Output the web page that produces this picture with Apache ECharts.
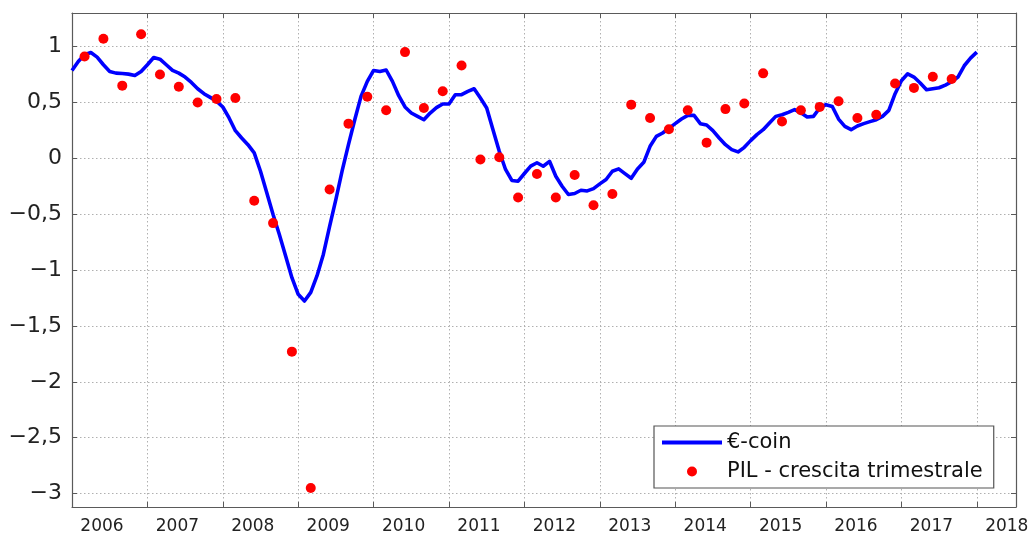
<!DOCTYPE html>
<html>
<head>
<meta charset="utf-8">
<script src="https://cdn.jsdelivr.net/npm/echarts@6/dist/echarts.min.js"></script>
<style>
  html, body { margin: 0; padding: 0; background: #fff; }
  #chart { width: 1033px; height: 535px; }
</style>
</head>
<body>
<div id="chart"></div>
<script>
// €-coin, monthly values from Jan 2006 to Jan 2018
var ecoinStart = 2006;
var ecoin = [
  0.786, 0.866, 0.926, 0.946, 0.905, 0.837, 0.777, 0.762, 0.759, 0.753, 0.741, 0.777,
  0.837, 0.902, 0.887, 0.837, 0.786, 0.762, 0.727, 0.679, 0.622, 0.578, 0.545, 0.512,
  0.459, 0.361, 0.247, 0.182, 0.122, 0.048, -0.116, -0.309, -0.503, -0.682, -0.875, -1.068,
  -1.217, -1.277, -1.2, -1.05, -0.86, -0.61, -0.368, -0.11, 0.122, 0.345, 0.554, 0.688,
  0.786, 0.777, 0.79, 0.688, 0.56, 0.459, 0.405, 0.375, 0.345, 0.405, 0.453, 0.486,
  0.486, 0.569, 0.569, 0.598, 0.622, 0.539, 0.45, 0.256, 0.063, -0.1, -0.198, -0.205,
  -0.136, -0.07, -0.04, -0.071, -0.027, -0.161, -0.25, -0.324, -0.315, -0.286, -0.292, -0.271,
  -0.229, -0.19, -0.116, -0.095, -0.137, -0.179, -0.095, -0.036, 0.107, 0.196, 0.226, 0.268,
  0.31, 0.351, 0.384, 0.384, 0.31, 0.298, 0.247, 0.182, 0.122, 0.078, 0.057, 0.098,
  0.158, 0.212, 0.256, 0.316, 0.375, 0.39, 0.411, 0.435, 0.408, 0.37, 0.375, 0.45,
  0.48, 0.464, 0.351, 0.286, 0.256, 0.289, 0.31, 0.328, 0.345, 0.375, 0.429, 0.578,
  0.694, 0.756, 0.727, 0.673, 0.613, 0.622, 0.631, 0.655, 0.685, 0.727, 0.828, 0.896,
  0.95
];

// PIL - crescita trimestrale, quarterly from 2006 Q1 to 2017 Q3
var pilStart = 2006;
var pil = [
  0.91, 1.07, 0.65, 1.11,
  0.75, 0.64, 0.50, 0.53,
  0.54, -0.38, -0.58, -1.73,
  -2.95, -0.28, 0.31, 0.55,
  0.43, 0.95, 0.45, 0.60,
  0.83, -0.01, 0.01, -0.35,
  -0.14, -0.35, -0.15, -0.42,
  -0.32, 0.48, 0.36, 0.26,
  0.43, 0.14, 0.44, 0.49,
  0.76, 0.33, 0.43, 0.46,
  0.51, 0.36, 0.39, 0.67,
  0.63, 0.73, 0.71
];

var seriesNames = ['€-coin', 'PIL - crescita trimestrale'];

var ecoinData = ecoin.map(function (v, i) { return [ecoinStart + i / 12, v]; });
var pilData = pil.map(function (v, i) { return [pilStart + i / 4 + 1 / 6, v]; });

var myChart = echarts.init(document.getElementById('chart'));

var axisColor = '#5a5a5a';
var gridStyle = { color: '#b0b0b0', width: 1, type: [1.5, 2.5] };

function yLabel(v) {
  if (Math.abs(v * 2 - Math.round(v * 2)) > 1e-6) return '';
  return String(v).replace('.', ',').replace('-', '\u2212');
}
function xLabel(v) {
  return Math.abs(v - Math.round(v)) < 1e-6 ? String(Math.round(v)) : '';
}

option = {
  animation: false,
  backgroundColor: '#fff',
  grid: { left: 72, top: 13, right: 17, bottom: 27 },
  xAxis: [
    {
      type: 'value', min: 2006, max: 2018.52, interval: 1,
      axisLine: { onZero: false, lineStyle: { color: axisColor, width: 1.2 } },
      axisTick: { inside: true, length: 5, lineStyle: { color: axisColor } },
      axisLabel: {
        formatter: xLabel, color: '#222', fontFamily: 'DejaVu Sans', fontSize: 17,
        margin: 11, padding: [0, 0, 0, 60], showMaxLabel: false
      },
      splitLine: { show: true, lineStyle: gridStyle }
    },
    {
      type: 'value', position: 'top', min: 2006, max: 2018.52, interval: 1,
      axisLine: { onZero: false, lineStyle: { color: axisColor, width: 1.2 } },
      axisTick: { inside: true, length: 5, lineStyle: { color: axisColor } },
      axisLabel: { show: false },
      splitLine: { show: false }
    }
  ],
  yAxis: [
    {
      type: 'value', min: -3.12, max: 1.3, minInterval: 0.5, maxInterval: 0.5, splitNumber: 9,
      axisLine: { show: true, onZero: false, lineStyle: { color: axisColor, width: 1.2 } },
      axisTick: { show: true, inside: true, length: 5, lineStyle: { color: axisColor } },
      axisLabel: {
        formatter: yLabel, color: '#222', fontFamily: 'DejaVu Sans', fontSize: 22, margin: 10,
        showMinLabel: false, showMaxLabel: false
      },
      splitLine: { show: true, lineStyle: gridStyle }
    },
    {
      type: 'value', position: 'right', min: -3.12, max: 1.3, minInterval: 0.5, maxInterval: 0.5, splitNumber: 9,
      axisLine: { show: true, onZero: false, lineStyle: { color: axisColor, width: 1.2 } },
      axisTick: { show: true, inside: true, length: 5, lineStyle: { color: axisColor } },
      axisLabel: { show: false },
      splitLine: { show: false }
    }
  ],
  legend: {
    orient: 'vertical',
    left: 654, top: 426,
    padding: [6, 11, 6, 6],
    itemWidth: 60, itemHeight: 10, itemGap: 8,
    backgroundColor: '#fff',
    borderColor: '#555', borderWidth: 1.2, borderRadius: 0,
    lineStyle: { width: 4 },
    textStyle: { fontFamily: 'DejaVu Sans', fontSize: 21, color: '#111', lineHeight: 20 },
    data: [
      { name: seriesNames[0], itemStyle: { opacity: 0 } },
      { name: seriesNames[1] }
    ]
  },
  series: [
    {
      name: seriesNames[0], type: 'line', data: ecoinData,
      xAxisIndex: 0, yAxisIndex: 0,
      symbol: 'none', showSymbol: false,
      lineStyle: { color: '#0000ff', width: 3.6, join: 'round' },
      itemStyle: { color: '#0000ff' },
      z: 3
    },
    {
      name: seriesNames[1], type: 'scatter', data: pilData,
      xAxisIndex: 0, yAxisIndex: 0,
      symbol: 'circle', symbolSize: 10,
      itemStyle: { color: '#ff0000', opacity: 1 },
      z: 4
    }
  ]
};

myChart.setOption(option);
</script>
</body>
</html>
